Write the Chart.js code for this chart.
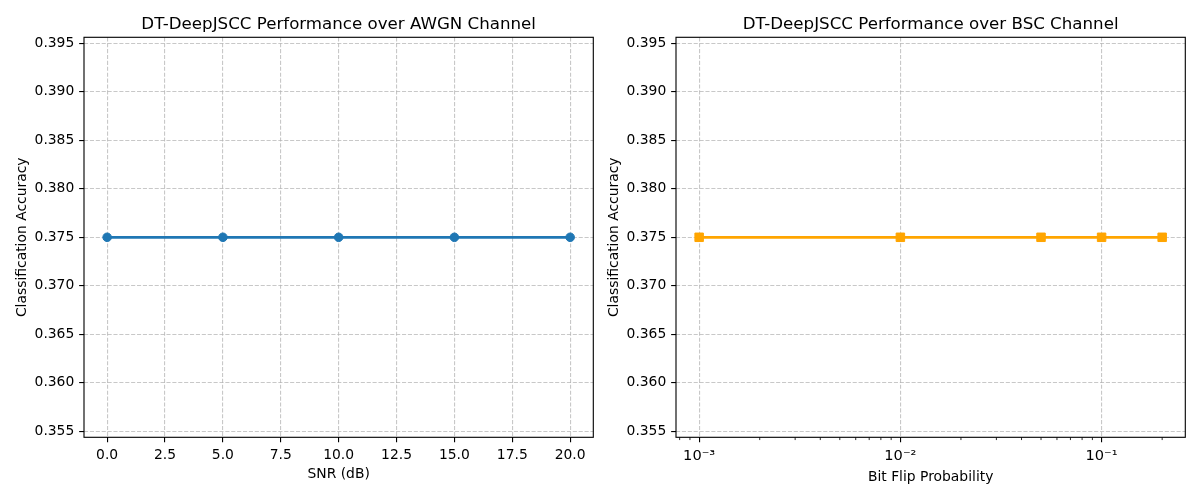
<!DOCTYPE html>
<html>
<head>
<meta charset="utf-8">
<script src="https://cdn.jsdelivr.net/npm/chart.js@4/dist/chart.umd.min.js"></script>
<style>
html, body { margin: 0; padding: 0; background: #ffffff; }
canvas { position: absolute; top: 0; }
#awgn { left: 0; }
#bsc { left: 600px; }
</style>
</head>
<body>
<canvas id="awgn" width="600" height="500"></canvas>
<canvas id="bsc" width="600" height="500"></canvas>
<script>
// ---------- data ----------
const snrValues = [0, 5, 10, 15, 20];
const awgnAccuracy = [0.375, 0.375, 0.375, 0.375, 0.375];
const bitFlipProbs = [0.001, 0.01, 0.05, 0.1, 0.2];
const bscAccuracy = [0.375, 0.375, 0.375, 0.375, 0.375];

const snrTicks = [0, 2.5, 5, 7.5, 10, 12.5, 15, 17.5, 20];
const accuracyTicks = [0.355, 0.36, 0.365, 0.37, 0.375, 0.38, 0.385, 0.39, 0.395];
const bscMajorTicks = [0.001, 0.01, 0.1];
const bscMajorLabels = ['10⁻³', '10⁻²', '10⁻¹'];
const bscMinorTicks = [0.0008, 0.0009,
  0.002, 0.003, 0.004, 0.005, 0.006, 0.007, 0.008, 0.009,
  0.02, 0.03, 0.04, 0.05, 0.06, 0.07, 0.08, 0.09,
  0.2];

const awgnTitle = 'DT-DeepJSCC Performance over AWGN Channel';
const bscTitle = 'DT-DeepJSCC Performance over BSC Channel';
const yTitle = 'Classification Accuracy';
const snrTitle = 'SNR (dB)';
const bscXTitle = 'Bit Flip Probability';

// axis view limits
const yMin = 0.354375, yMax = 0.395625;
const snrMin = -1, snrMax = 21;
const bscMin = 0.0007673, bscMax = 0.2606;

// ---------- styling ----------
const PT = 100 / 72;
Chart.defaults.font.family = "'DejaVu Sans', sans-serif";
Chart.defaults.font.size = 10 * PT;
Chart.defaults.color = '#000000';
const gridColor = 'rgba(176,176,176,0.7)';
const gridDash = [3.7 * 0.8 * PT, 1.6 * 0.8 * PT];

const spinePlugin = {
  id: 'spines',
  afterDatasetsDraw(chart) {
    const a = chart.chartArea, ctx = chart.ctx;
    ctx.save();
    ctx.strokeStyle = '#000000';
    ctx.lineWidth = 0.8 * PT;
    ctx.strokeRect(a.left, a.top, a.right - a.left, a.bottom - a.top);
    ctx.restore();
  }
};

const minorTickPlugin = {
  id: 'minorTicks',
  afterDraw(chart) {
    const sx = chart.scales.x, a = chart.chartArea, ctx = chart.ctx;
    ctx.save();
    ctx.strokeStyle = '#000000';
    ctx.lineWidth = 0.6 * PT;
    bscMinorTicks.forEach(v => {
      const px = sx.getPixelForValue(v);
      ctx.beginPath();
      ctx.moveTo(px, a.bottom);
      ctx.lineTo(px, a.bottom + 2 * PT);
      ctx.stroke();
    });
    ctx.restore();
  }
};

function yScale(width, titlePadTop) {
  return {
    type: 'linear',
    min: yMin, max: yMax,
    afterBuildTicks: s => { s.ticks = accuracyTicks.map(v => ({ value: v })); },
    afterFit: s => { s.width = width; },
    ticks: { callback: v => Number(v).toFixed(3), padding: 3.5 * PT, autoSkip: false },
    grid: { color: gridColor, lineWidth: 0.8 * PT, tickLength: 3.5 * PT, tickColor: '#000000', tickWidth: 0.8 * PT },
    border: { display: false, dash: gridDash },
    title: { display: true, text: yTitle, font: { size: 10 * PT }, padding: { top: titlePadTop, bottom: 0 } }
  };
}

function titleOpts(text) {
  return {
    display: true, text: text, fullSize: false, color: '#000000',
    font: { size: 12 * PT, weight: 'normal' },
    padding: { top: 14.3, bottom: 3 }
  };
}

// ---------- AWGN chart ----------
new Chart(document.getElementById('awgn'), {
  type: 'line',
  data: {
    datasets: [{
      data: snrValues.map((x, i) => ({ x: x, y: awgnAccuracy[i] })),
      borderColor: '#1f77b4', backgroundColor: '#1f77b4',
      borderWidth: 2 * PT,
      pointStyle: 'circle', pointRadius: 4.3, pointBorderWidth: 1,
      pointBackgroundColor: '#1f77b4', pointBorderColor: '#1f77b4',
      tension: 0, fill: false
    }]
  },
  options: {
    responsive: false, animation: false,
    layout: { padding: { left: 0, right: 6.7, top: 0, bottom: 0 } },
    plugins: { legend: { display: false }, tooltip: { enabled: false }, title: titleOpts(awgnTitle) },
    scales: {
      x: {
        type: 'linear', min: snrMin, max: snrMax,
        afterBuildTicks: s => { s.ticks = snrTicks.map(v => ({ value: v })); },
        afterFit: s => { s.height = 62.7; },
        ticks: { callback: v => Number(v).toFixed(1), padding: 3.5 * PT, autoSkip: false, maxRotation: 0 },
        grid: { color: gridColor, lineWidth: 0.8 * PT, tickLength: 3.5 * PT, tickColor: '#000000', tickWidth: 0.8 * PT },
        border: { display: false, dash: gridDash },
        title: { display: true, text: snrTitle, font: { size: 10 * PT }, padding: { top: 0, bottom: 17 } }
      },
      y: yScale(84, 13.9)
    }
  },
  plugins: [spinePlugin]
});

// ---------- BSC chart ----------
new Chart(document.getElementById('bsc'), {
  type: 'line',
  data: {
    datasets: [{
      data: bitFlipProbs.map((x, i) => ({ x: x, y: bscAccuracy[i] })),
      borderColor: '#ffa500', backgroundColor: '#ffa500',
      borderWidth: 2 * PT,
      pointStyle: 'rect', pointRadius: 6, pointBorderWidth: 1,
      pointBackgroundColor: '#ffa500', pointBorderColor: '#ffa500',
      tension: 0, fill: false
    }]
  },
  options: {
    responsive: false, animation: false,
    layout: { padding: { left: 0, right: 14.7, top: 0, bottom: 0 } },
    plugins: { legend: { display: false }, tooltip: { enabled: false }, title: titleOpts(bscTitle) },
    scales: {
      x: {
        type: 'logarithmic', min: bscMin, max: bscMax,
        afterBuildTicks: s => { s.ticks = bscMajorTicks.map(v => ({ value: v, major: true })); },
        afterFit: s => { s.height = 62.7; },
        ticks: {
          callback: v => { const i = bscMajorTicks.indexOf(v); return i >= 0 ? bscMajorLabels[i] : ''; },
          font: { size: 10.5 * PT },
          padding: 3.5 * PT, autoSkip: false, maxRotation: 0
        },
        grid: { color: gridColor, lineWidth: 0.8 * PT, tickLength: 3.5 * PT, tickColor: '#000000', tickWidth: 0.8 * PT },
        border: { display: false, dash: gridDash },
        title: { display: true, text: bscXTitle, font: { size: 10 * PT }, padding: { top: 0, bottom: 14 } }
      },
      y: yScale(76, 6.5)
    }
  },
  plugins: [spinePlugin, minorTickPlugin]
});
</script>
</body>
</html>
